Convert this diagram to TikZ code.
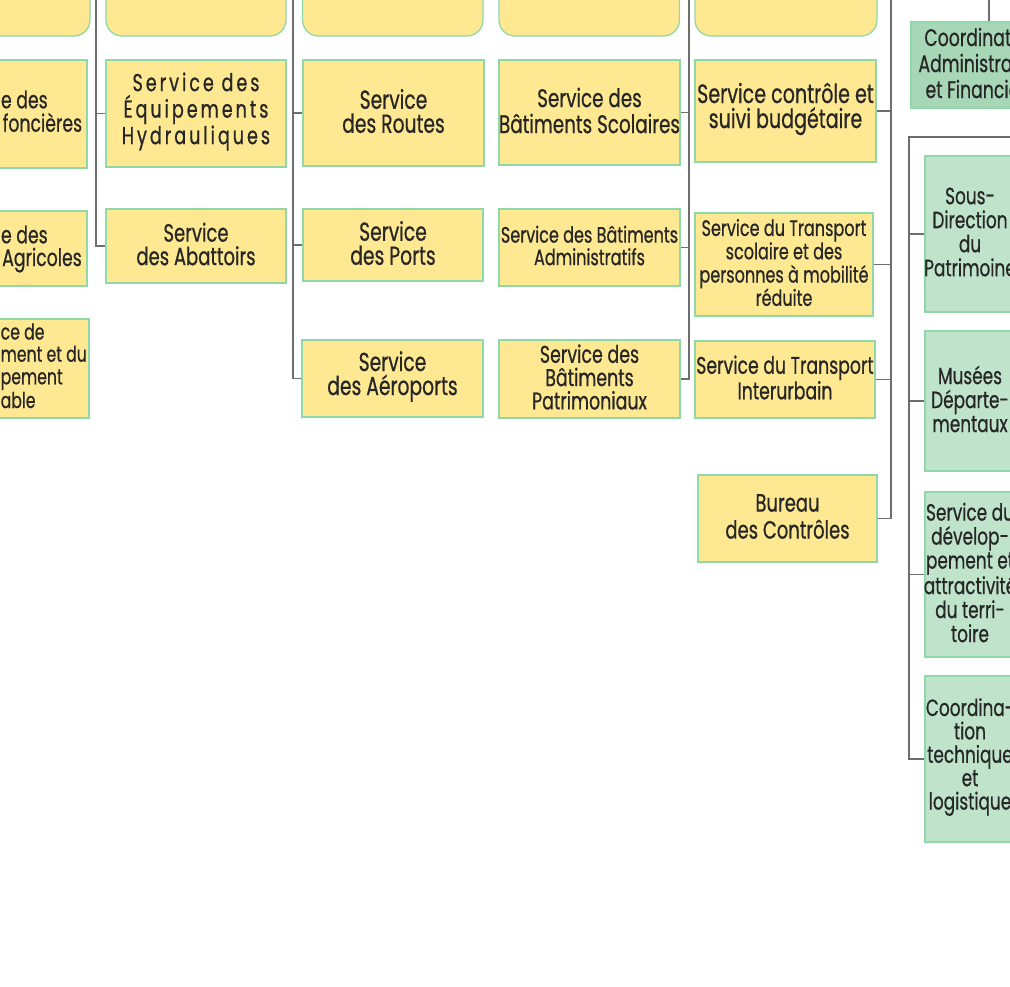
\documentclass[tikz,border=0pt]{standalone}
\usepackage{fontspec}
\setmainfont{Poppins}[FakeStretch=0.72, FakeBold=0.6]
\definecolor{yfill}{HTML}{FEE891}
\definecolor{yborder}{HTML}{8FD8A8}
\definecolor{gfill}{HTML}{BFE4CB}
\definecolor{gzfill}{HTML}{A7D7B7}
\definecolor{wire}{HTML}{6E6E6E}
\definecolor{ink}{HTML}{262626}
\tikzset{
  ybox/.style={draw=yborder, fill=yfill, line width=1.3pt, inner sep=0pt, rectangle},
  topbox/.style={ybox, rounded corners=16pt},
  gbox/.style={draw=yborder, fill=gfill, line width=1.3pt, inner sep=0pt, rectangle},
  gzbox/.style={gbox, fill=gzfill},
  txt/.style={inner sep=0pt, align=center, text=ink, yshift=2pt},
  frag/.style={inner sep=0pt, anchor=base west, text=ink},
  link/.style={draw=wire, line width=1.3pt},
}
\newcommand\fs[2]{\fontsize{#1}{#2}\selectfont}
\begin{document}
\begin{tikzpicture}[x=1pt,y=-1pt]
\useasboundingbox (0,0) rectangle (1010,986);
\clip (0,0) rectangle (1010,986);
% spines' free ends
\coordinate (sB) at (96,-10);
\coordinate (sC) at (293,-10);
\coordinate (sD) at (689,-10);
\coordinate (sE) at (891,-10);
\coordinate (sZ) at (989,-10);
\coordinate (gTop) at (909,137);
\coordinate (gRight) at (1030,137);
% top rounded boxes
\node[topbox, minimum width=190pt, minimum height=96pt] (T1) at (-5,-12) {};
\node[topbox, minimum width=180pt, minimum height=96pt] (T2) at (196,-12) {};
\node[topbox, minimum width=180.5pt, minimum height=96pt] (T3) at (392.75,-12) {};
\node[topbox, minimum width=180.5pt, minimum height=96pt] (T4) at (589.25,-12) {};
\node[topbox, minimum width=182pt, minimum height=96pt] (T5) at (786,-12) {};
% column A (cut by the left edge)
\node[ybox, minimum width=182pt, minimum height=108pt] (A1) at (-4,114) {};
\node[frag, font=\fs{24}{24}] (A1a) at (0.8,108.3) {e des};
\node[frag, font=\fs{24}{24}] (A1b) at (2.5,131.7) {foncières};
\node[ybox, minimum width=182pt, minimum height=75pt] (A2) at (-4,248.5) {};
\node[frag, font=\fs{24}{24}] (A2a) at (0.8,243.3) {e des};
\node[frag, font=\fs{24}{24}] (A2b) at (2,266) {Agricoles};
\node[ybox, minimum width=184pt, minimum height=99pt] (A3) at (-3,368.5) {};
\node[frag, font=\fs{21.8}{23}] (A3a) at (0.5,339.5) {ce de};
\node[frag, font=\fs{21.8}{23}] (A3b) at (0.5,361.7) {ment et du};
\node[frag, font=\fs{21.8}{23}] (A3c) at (0.5,384.3) {pement};
\node[frag, font=\fs{21.8}{23}] (A3d) at (0.5,408) {able};
% column B
\node[ybox, minimum width=180pt, minimum height=107pt] (B1) at (196,113.5) {};
\node[txt, font=\fs{24.5}{26.5}\addfontfeature{LetterSpace=12}] (B1t) at (B1) {Service des\\Équipements\\Hydrauliques};
\node[ybox, minimum width=180pt, minimum height=74pt] (B2) at (196,246) {};
\node[txt, font=\fs{25}{23.5}] (B2t) at (B2) {Service\\des Abattoirs};
% column C
\node[ybox, minimum width=181pt, minimum height=106pt] (C1) at (393.5,113) {};
\node[txt, font=\fs{26}{24}] (C1t) at (C1) {Service\\des Routes};
\node[ybox, minimum width=180pt, minimum height=72pt] (C2) at (393,245) {};
\node[txt, font=\fs{26}{24}] (C2t) at (C2) {Service\\des Ports};
\node[ybox, minimum width=181pt, minimum height=77pt] (C3) at (392.5,378.5) {};
\node[txt, font=\fs{26}{24}] (C3t) at (C3) {Service\\des Aéroports};
% column D
\node[ybox, minimum width=181pt, minimum height=105pt] (D1) at (589.5,112.5) {};
\node[txt, font=\fs{25.5}{26}] (D1t) at (D1) {Service des\\Bâtiments Scolaires};
\node[ybox, minimum width=181pt, minimum height=77pt] (D2) at (589.5,247.5) {};
\node[txt, font=\fs{22.3}{22.5}] (D2t) at (D2) {Service des Bâtiments\\Administratifs};
\node[ybox, minimum width=181pt, minimum height=78pt] (D3) at (589.5,379) {};
\node[txt, font=\fs{24.2}{23.3}] (D3t) at (D3) {Service des\\Bâtiments\\Patrimoniaux};
% column E
\node[ybox, minimum width=181pt, minimum height=102pt] (E1) at (785.5,111) {};
\node[txt, font=\fs{26.5}{25}] (E1t) at (E1) {Service contrôle et\\suivi budgétaire};
\node[ybox, minimum width=178pt, minimum height=103pt] (E2) at (784,264.5) {};
\node[txt, font=\fs{22.3}{23.3}] (E2t) at (E2) {Service du Transport\\scolaire et des\\personnes à mobilité\\réduite};
\node[ybox, minimum width=180pt, minimum height=77pt] (E3) at (785,379.5) {};
\node[txt, font=\fs{24}{23.3}] (E3t) at (E3) {Service du Transport\\Interurbain};
\node[ybox, minimum width=179pt, minimum height=87pt] (E4) at (787.5,518.5) {};
\node[txt, font=\fs{25}{27}] (E4t) at (E4) {Bureau\\des Contrôles};
% right column (green)
\node[gzbox, minimum width=140pt, minimum height=86pt] (G0) at (981,65) {};
\node[txt, font=\fs{24}{26}] (G0t) at (G0) {Coordination\\Administrative\\et Financière};
\node[gbox, minimum width=90pt, minimum height=156pt] (G1) at (970,234) {};
\node[txt, font=\fs{23.5}{24}] (G1t) at (G1) {Sous-\\Direction\\du\\Patrimoine};
\node[gbox, minimum width=90pt, minimum height=140pt] (G2) at (970,401) {};
\node[txt, font=\fs{23.5}{24}] (G2t) at (G2) {Musées\\Départe-\\mentaux};
\node[gbox, minimum width=90pt, minimum height=165pt] (G3) at (970,574.5) {};
\node[txt, font=\fs{23.5}{24}] (G3t) at (G3) {Service du\\dévelop-\\pement et\\attractivité\\du terri-\\toire};
\node[gbox, minimum width=90pt, minimum height=166pt] (G4) at (970,759) {};
\node[txt, font=\fs{23.5}{23.4}] (G4t) at (G4) {Coordina-\\tion\\technique\\et\\logistique};
% connectors
\draw[link] (sB) |- (B2.west);
\draw[link] (B1.west) -- (B1.west -| sB);
\draw[link] (sC) |- (C3.west);
\draw[link] (C1.west) -- (C1.west -| sC);
\draw[link] (C2.west) -- (C2.west -| sC);
\draw[link] (sD) |- (D3.east);
\draw[link] (D1.east) -- (D1.east -| sD);
\draw[link] (D2.east) -- (D2.east -| sD);
\draw[link] (sE) |- (E4.east);
\draw[link] (E1.east) -- (E1.east -| sE);
\draw[link] (E2.east) -- (E2.east -| sE);
\draw[link] (E3.east) -- (E3.east -| sE);
\draw[link] (sZ) -- (sZ |- G0.north);
\draw[link] (gRight) -- (gTop) |- (G4.west);
\draw[link] (G1.west) -- (G1.west -| gTop);
\draw[link] (G2.west) -- (G2.west -| gTop);
\draw[link] (G3.west) -- (G3.west -| gTop);
\end{tikzpicture}
\end{document}
